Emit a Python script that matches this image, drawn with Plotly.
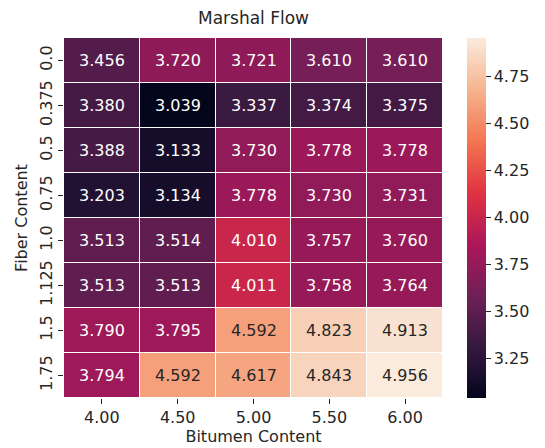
import plotly.graph_objects as go

# Marshall flow values: rows = fiber content, columns = bitumen content
bitumen = ["4.00", "4.50", "5.00", "5.50", "6.00"]
fiber = ["0.0", "0.375", "0.5", "0.75", "1.0", "1.125", "1.5", "1.75"]

flow_0_0 = [3.456, 3.720, 3.721, 3.610, 3.610]
flow_0_375 = [3.380, 3.039, 3.337, 3.374, 3.375]
flow_0_5 = [3.388, 3.133, 3.730, 3.778, 3.778]
flow_0_75 = [3.203, 3.134, 3.778, 3.730, 3.731]
flow_1_0 = [3.513, 3.514, 4.010, 3.757, 3.760]
flow_1_125 = [3.513, 3.513, 4.011, 3.758, 3.764]
flow_1_5 = [3.790, 3.795, 4.592, 4.823, 4.913]
flow_1_75 = [3.794, 4.592, 4.617, 4.843, 4.956]

z = [flow_0_0, flow_0_375, flow_0_5, flow_0_75,
     flow_1_0, flow_1_125, flow_1_5, flow_1_75]

# seaborn "rocket"-like colour ramp
rocket = [
    [0.0, "#03051a"],
    [0.07, "#1c1030"],
    [1 / 7, "#35193e"],
    [2 / 7, "#701f57"],
    [3 / 7, "#ad1759"],
    [4 / 7, "#e13342"],
    [5 / 7, "#f37651"],
    [6 / 7, "#f6b48f"],
    [1.0, "#faebdd"],
]

flat = [v for row in z for v in row]
zmin, zmax = min(flat), max(flat)

FONT = "DejaVu Sans"
INK = "#262626"

fig = go.Figure(
    go.Heatmap(
        z=z,
        x=bitumen,
        y=fiber,
        colorscale=rocket,
        zmin=zmin,
        zmax=zmax,
        xgap=1,
        ygap=1,
        colorbar=dict(
            thickness=19,
            len=1,
            lenmode="fraction",
            x=1.0645,
            xanchor="left",
            xpad=0,
            ypad=0,
            y=0.5,
            yanchor="middle",
            outlinewidth=0,
            tick0=3.25,
            dtick=0.25,
            tickformat=".2f",
            ticks="outside",
            ticklen=5,
            tickcolor=INK,
            tickfont=dict(family=FONT, size=16, color=INK),
        ),
    )
)

# cell annotations: light text on dark cells, dark text on light cells
annotations = []
for i, fy in enumerate(fiber):
    for j, bx in enumerate(bitumen):
        v = z[i][j]
        t = (v - zmin) / (zmax - zmin)
        annotations.append(
            dict(
                x=j,
                y=i,
                xref="x",
                yref="y",
                text=f"{v:.3f}",
                showarrow=False,
                font=dict(family=FONT, size=16,
                          color=INK if t > 0.65 else "#ffffff"),
            )
        )

fig.update_layout(
    width=545,
    height=448,
    margin=dict(l=63.5, r=101.5, t=37.5, b=50, autoexpand=False),
    paper_bgcolor="white",
    plot_bgcolor="white",
    font=dict(family=FONT, size=16, color=INK),
    title=dict(
        text="Marshal Flow",
        x=(63.5 + 380 / 2) / 545,
        xanchor="center",
        y=1 - 18 / 448,
        yanchor="middle",
        font=dict(family=FONT, size=17, color=INK),
    ),
    annotations=annotations,
)

fig.update_xaxes(
    type="category",
    title=dict(text="Bitumen Content", standoff=4,
               font=dict(family=FONT, size=16, color=INK)),
    ticks="outside",
    ticklen=5,
    tickcolor=INK,
    tickfont=dict(family=FONT, size=16, color=INK),
    showgrid=False,
    zeroline=False,
    showline=False,
)
fig.update_yaxes(
    type="category",
    title=dict(text="Fiber Content", standoff=4,
               font=dict(family=FONT, size=16, color=INK)),
    autorange="reversed",
    ticks="outside",
    ticklen=5,
    tickcolor=INK,
    tickangle=-90,
    tickfont=dict(family=FONT, size=16, color=INK),
    showgrid=False,
    zeroline=False,
    showline=False,
)

fig.write_html("out.html")
